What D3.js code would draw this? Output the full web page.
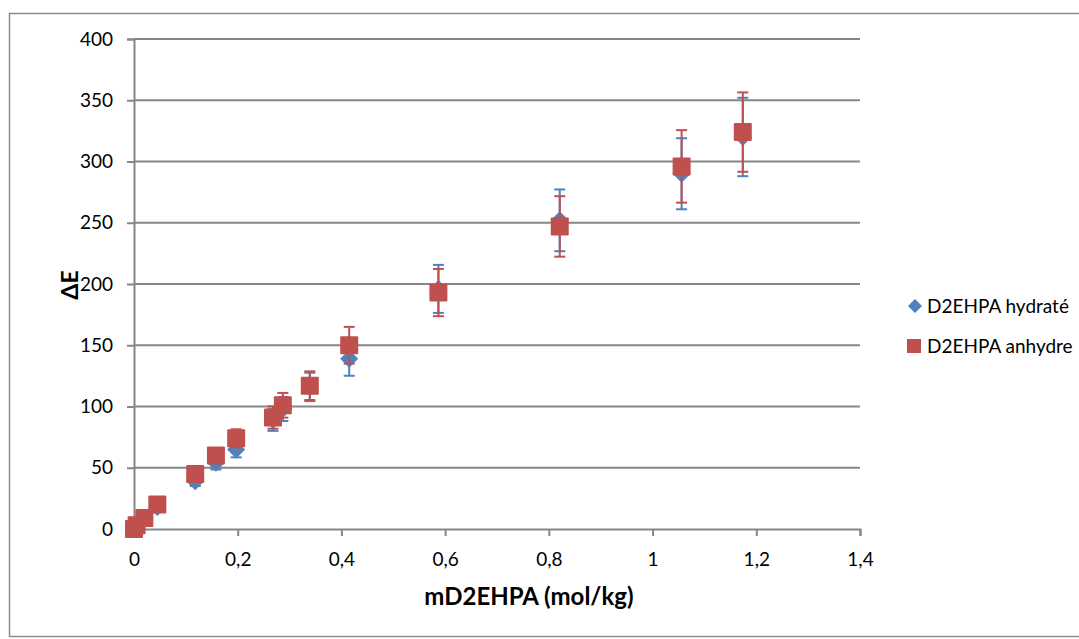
<!DOCTYPE html>
<html><head><meta charset="utf-8">
<script src="https://cdn.jsdelivr.net/npm/d3@7"></script>
<style>body{margin:0;background:#fff}svg{display:block}</style>
</head><body>
<svg id="c" width="1079" height="639"></svg>
<script>
const xValues = [0, 0.005, 0.02, 0.045, 0.118, 0.158, 0.197, 0.268, 0.287, 0.339, 0.415, 0.587, 0.821, 1.056, 1.174];
const hydrate = [0, 2, 8, 18, 39, 54, 65, 89, 98, 116, 139, 196, 252, 290, 320];
const anhydre = [0, 3, 9, 20, 45, 60, 74, 91, 101, 117, 150, 193, 247, 296, 324];
const hydrateErr = [0, 0.2, 0.8, 1.8, 3.9, 5.4, 6.5, 8.9, 9.8, 11.6, 13.9, 19.6, 25.2, 29, 32];
const anhydreErr = [0, 0.3, 0.9, 2, 4.5, 6, 7.4, 9.1, 10.1, 11.7, 15, 19.3, 24.7, 29.6, 32.4];
const xTicks = [0, 0.2, 0.4, 0.6, 0.8, 1, 1.2, 1.4];
const yTicks = [0, 50, 100, 150, 200, 250, 300, 350, 400];
const seriesNames = ["D2EHPA hydraté", "D2EHPA anhydre"];
const xTitle = "mD2EHPA (mol/kg)";
const yTitle = "ΔE";

const svg = d3.select("#c");
const font = "Lato, 'Open Sans', sans-serif";
const grid = "#868686";
const blue = "#4F81BD", red = "#C0504D";

svg.append("rect").attr("x", 9.5).attr("y", 13.5).attr("width", 1100).attr("height", 623)
  .attr("fill", "#fff").attr("stroke", "#8c8c8c").attr("stroke-width", 1.5);

const x = d3.scaleLinear().domain([0, 1.4]).range([134, 860]);
const y = d3.scaleLinear().domain([0, 400]).range([529, 39]);

// gridlines
svg.append("g").selectAll("line").data(yTicks.filter(d => d > 0)).join("line")
  .attr("x1", x(0)).attr("x2", x(1.4)).attr("y1", d => y(d)).attr("y2", d => y(d))
  .attr("stroke", grid).attr("stroke-width", 2);

// axes
const fmt = d => String(d).replace(".", ",");
const yAxis = svg.append("g").attr("transform", `translate(${x(0)},0)`)
  .call(d3.axisLeft(y).tickValues(yTicks).tickSize(7).tickPadding(14).tickFormat(fmt));
const xAxis = svg.append("g").attr("transform", `translate(0,${y(0)})`)
  .call(d3.axisBottom(x).tickValues(xTicks).tickSize(7).tickPadding(17).tickFormat(fmt));
[yAxis, xAxis].forEach(a => {
  a.select(".domain").attr("stroke", grid).attr("stroke-width", 2);
  a.selectAll(".tick line").attr("stroke", grid).attr("stroke-width", 2);
  a.selectAll("text").attr("fill", "#000").style("font-family", font).style("font-size", "19px");
});

// titles
svg.append("text").attr("x", 529).attr("y", 605).attr("text-anchor", "middle")
  .style("font-family", font).style("font-size", "24px").style("font-weight", "bold").text(xTitle);
svg.append("text").attr("transform", "translate(78,285) rotate(-90)").attr("text-anchor", "middle")
  .style("font-family", font).style("font-size", "23px").style("font-weight", "bold").text(yTitle);

function drawSeries(vals, errs, color, shape) {
  const g = svg.append("g");
  const data = xValues.map((xv, i) => ({x: xv, y: vals[i], e: errs[i]}));
  const eb = g.append("g").attr("stroke", color).attr("stroke-width", 2);
  data.forEach(d => {
    if (d.e <= 0) return;
    const cx = x(d.x), t = y(d.y + d.e), b = y(d.y - d.e);
    eb.append("line").attr("x1", cx).attr("x2", cx).attr("y1", t).attr("y2", b);
    eb.append("line").attr("x1", cx - 5.5).attr("x2", cx + 5.5).attr("y1", t).attr("y2", t);
    eb.append("line").attr("x1", cx - 5.5).attr("x2", cx + 5.5).attr("y1", b).attr("y2", b);
  });
  g.append("g").selectAll("path").data(data).join("path")
    .attr("transform", d => `translate(${x(d.x)},${y(d.y)})`)
    .attr("d", shape).attr("fill", color);
}
const diamond = "M0,-9L9,0L0,9L-9,0Z";
const square = "M-8,-9H8Q9,-9 9,-8V8Q9,9 8,9H-8Q-9,9 -9,8V-8Q-9,-9 -8,-9Z";
drawSeries(hydrate, hydrateErr, blue, diamond);
drawSeries(anhydre, anhydreErr, red, square);

// legend
const lg = svg.append("g");
lg.append("path").attr("transform", "translate(915,306)").attr("d", "M0,-7L7,0L0,7L-7,0Z").attr("fill", blue);
lg.append("path").attr("transform", "translate(914,346)").attr("d", "M-7,-7H7V7H-7Z").attr("fill", red);
[[306, seriesNames[0]], [346, seriesNames[1]]].forEach(([yy, t]) =>
  lg.append("text").attr("x", 927).attr("y", yy).attr("dy", "0.35em")
    .style("font-family", font).style("font-size", "19px").text(t));
</script>
</body></html>
